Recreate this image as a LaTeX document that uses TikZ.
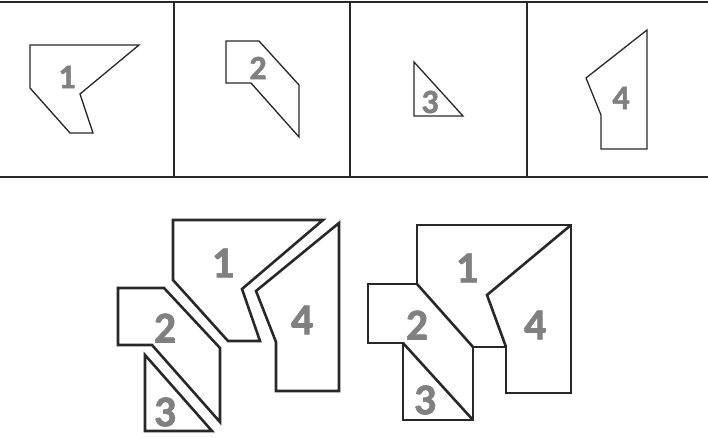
\documentclass[tikz,border=0pt]{standalone}
\usepackage{fontspec}
\setmainfont{Carlito}
\newfontfamily\numfont{Carlito Bold}[FakeBold=1.5]
\usepackage{tikz}

\definecolor{numgray}{RGB}{128,128,128}
\definecolor{linegray}{RGB}{40,40,40}

\tikzset{
  piece/.style={draw=linegray, line width=1.3pt, line join=miter},
  bigpiece/.style={draw=linegray, line width=2.6pt, line join=miter},
  frameline/.style={draw=linegray, line width=2pt},
  smallnum/.style={text=numgray, font=\numfont\fontsize{34}{34}\selectfont, inner sep=0pt},
  bignum/.style={text=numgray, font=\numfont\fontsize{44}{44}\selectfont, inner sep=0pt}
}

\begin{document}
\begin{tikzpicture}[x=1pt, y=-1pt]
        \useasboundingbox (0,0) rectangle (708,438);
        % frame of the four boxes
        \draw[frameline] (0,2) -- (708,2);
        \draw[frameline] (0,177) -- (708,177);
        \foreach \xx in {174,350,527}
          \draw[frameline] (\xx,2) -- (\xx,177);
        % box 1
        \draw[piece] (30,45) -- (139,45) -- (80,94) -- (93,133) -- (70,133) -- (30,88) -- cycle;
        \node[smallnum] (n1) at (67,77) {1};
        % box 2
        \draw[piece] (226,41) -- (259,41) -- (299,85) -- (299,137) -- (251,83) -- (226,83) -- cycle;
        \node[smallnum] (n2) at (258,68) {2};
        % box 3
        \draw[piece] (414,62) -- (463,116) -- (414,116) -- cycle;
        \node[smallnum] (n3) at (430,102) {3};
        % box 4
        \draw[piece] (647,30) -- (647,149) -- (601,149) -- (601,115) -- (586,78) -- cycle;
        \node[smallnum] (n4) at (621,98) {4};
        % pieces pulled apart
        \draw[bigpiece] (173,220) -- (323,220) -- (242,289) -- (260,341) -- (228,341) -- (173,280) -- cycle;
        \draw[bigpiece] (339,223) -- (339,391) -- (276,391) -- (276,342) -- (256,291) -- cycle;
        \draw[bigpiece] (118,288) -- (164,288) -- (220,348) -- (220,422) -- (152,345) -- (118,345) -- cycle;
        \draw[bigpiece] (145,355) -- (212,431) -- (145,431) -- cycle;
        \node[bignum] (a1) at (223,263) {1};
        \node[bignum] (a2) at (165,328) {2};
        \node[bignum] (a3) at (165,412) {3};
        \node[bignum] (a4) at (302,320) {4};
        % pieces put together
        \draw[bigpiece] (417,225) -- (571,225) -- (571,393) -- (506,393) -- (506,347) -- (473,347) -- (473,420)
          -- (403,420) -- (403,343) -- (368,343) -- (368,284) -- (417,284) -- cycle;
        \draw[bigpiece] (417,284) -- (473,347);
        \draw[bigpiece] (403,343) -- (473,420);
        \draw[bigpiece] (571,225) -- (487,295) -- (506,347);
        \node[bignum] (b1) at (467,268) {1};
        \node[bignum] (b2) at (417,325) {2};
        \node[bignum] (b3) at (425,400) {3};
        \node[bignum] (b4) at (535,325) {4};
      \end{tikzpicture}
\end{document}
